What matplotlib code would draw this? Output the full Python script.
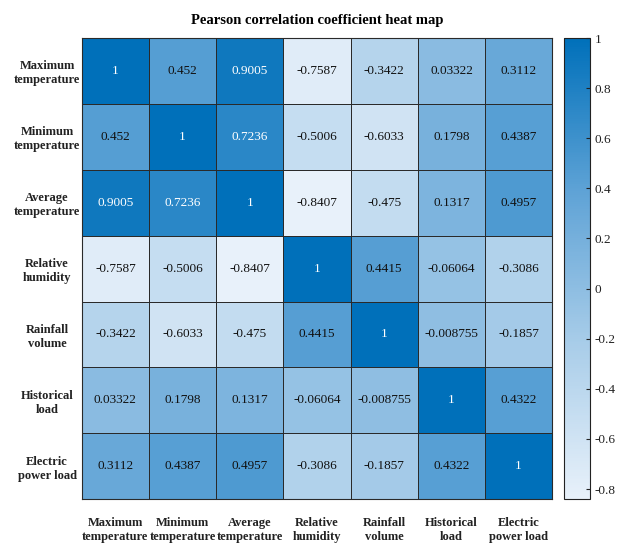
import numpy as np
import matplotlib
matplotlib.use("Agg")
import matplotlib.pyplot as plt
from matplotlib.colors import LinearSegmentedColormap

plt.rcParams["font.family"] = ["Liberation Serif", "DejaVu Serif"]

labels = ["Maximum\ntemperature", "Minimum\ntemperature", "Average\ntemperature",
          "Relative\nhumidity", "Rainfall\nvolume", "Historical\nload",
          "Electric\npower load"]

row_max_temp = [1, 0.452, 0.9005, -0.7587, -0.3422, 0.03322, 0.3112]
row_min_temp = [0.452, 1, 0.7236, -0.5006, -0.6033, 0.1798, 0.4387]
row_avg_temp = [0.9005, 0.7236, 1, -0.8407, -0.475, 0.1317, 0.4957]
row_humidity = [-0.7587, -0.5006, -0.8407, 1, 0.4415, -0.06064, -0.3086]
row_rainfall = [-0.3422, -0.6033, -0.475, 0.4415, 1, -0.008755, -0.1857]
row_hist_load = [0.03322, 0.1798, 0.1317, -0.06064, -0.008755, 1, 0.4322]
row_power_load = [0.3112, 0.4387, 0.4957, -0.3086, -0.1857, 0.4322, 1]

corr = np.array([row_max_temp, row_min_temp, row_avg_temp, row_humidity,
                 row_rainfall, row_hist_load, row_power_load])

cmap = LinearSegmentedColormap.from_list(
    "blues_ml", ["#e8f1fa", "#a9cde9", "#5fa3d6", "#0070ba"])
vmin, vmax = corr.min(), corr.max()

fig = plt.figure(figsize=(6.29, 5.51), dpi=100)
ax = fig.add_axes([0.130, 0.094, 0.748, 0.837])
cax = fig.add_axes([0.896, 0.094, 0.042, 0.837])

n = len(labels)
mesh = ax.pcolormesh(np.arange(n + 1), np.arange(n + 1), corr, cmap=cmap,
                     vmin=vmin, vmax=vmax, edgecolor="#2a2a2a", linewidth=0.45)
ax.set_xlim(0, n)
ax.set_ylim(n, 0)

for i in range(n):
    for j in range(n):
        v = corr[i, j]
        color = "white" if v > 0.6 else "#111111"
        ax.text(j + 0.5, i + 0.5, f"{v:.4g}", ha="center", va="center",
                fontsize=9.5, color=color)

ax.set_xticks(np.arange(n) + 0.5)
ax.set_yticks(np.arange(n) + 0.5)
ax.set_xticklabels(labels, fontsize=9, fontweight="bold", color="#222222")
ax.set_yticklabels(labels, fontsize=9, fontweight="bold", color="#222222",
                   ha="center")
ax.tick_params(axis="both", length=0)
ax.tick_params(axis="x", pad=13)
ax.tick_params(axis="y", pad=25)
for s in ax.spines.values():
    s.set_color("#2a2a2a")
    s.set_linewidth(0.8)

ax.set_title("Pearson correlation coefficient heat map", fontsize=10.5,
             fontweight="bold", pad=10)

cb = fig.colorbar(mesh, cax=cax)
cb.set_ticks([1, 0.8, 0.6, 0.4, 0.2, 0, -0.2, -0.4, -0.6, -0.8])
cb.set_ticklabels(["1", "0.8", "0.6", "0.4", "0.2", "0", "-0.2", "-0.4", "-0.6", "-0.8"])
cb.ax.tick_params(labelsize=9.5, length=3, direction="in", colors="#222222")
cb.outline.set_edgecolor("#222222")

fig.savefig("out.png", dpi=100)
